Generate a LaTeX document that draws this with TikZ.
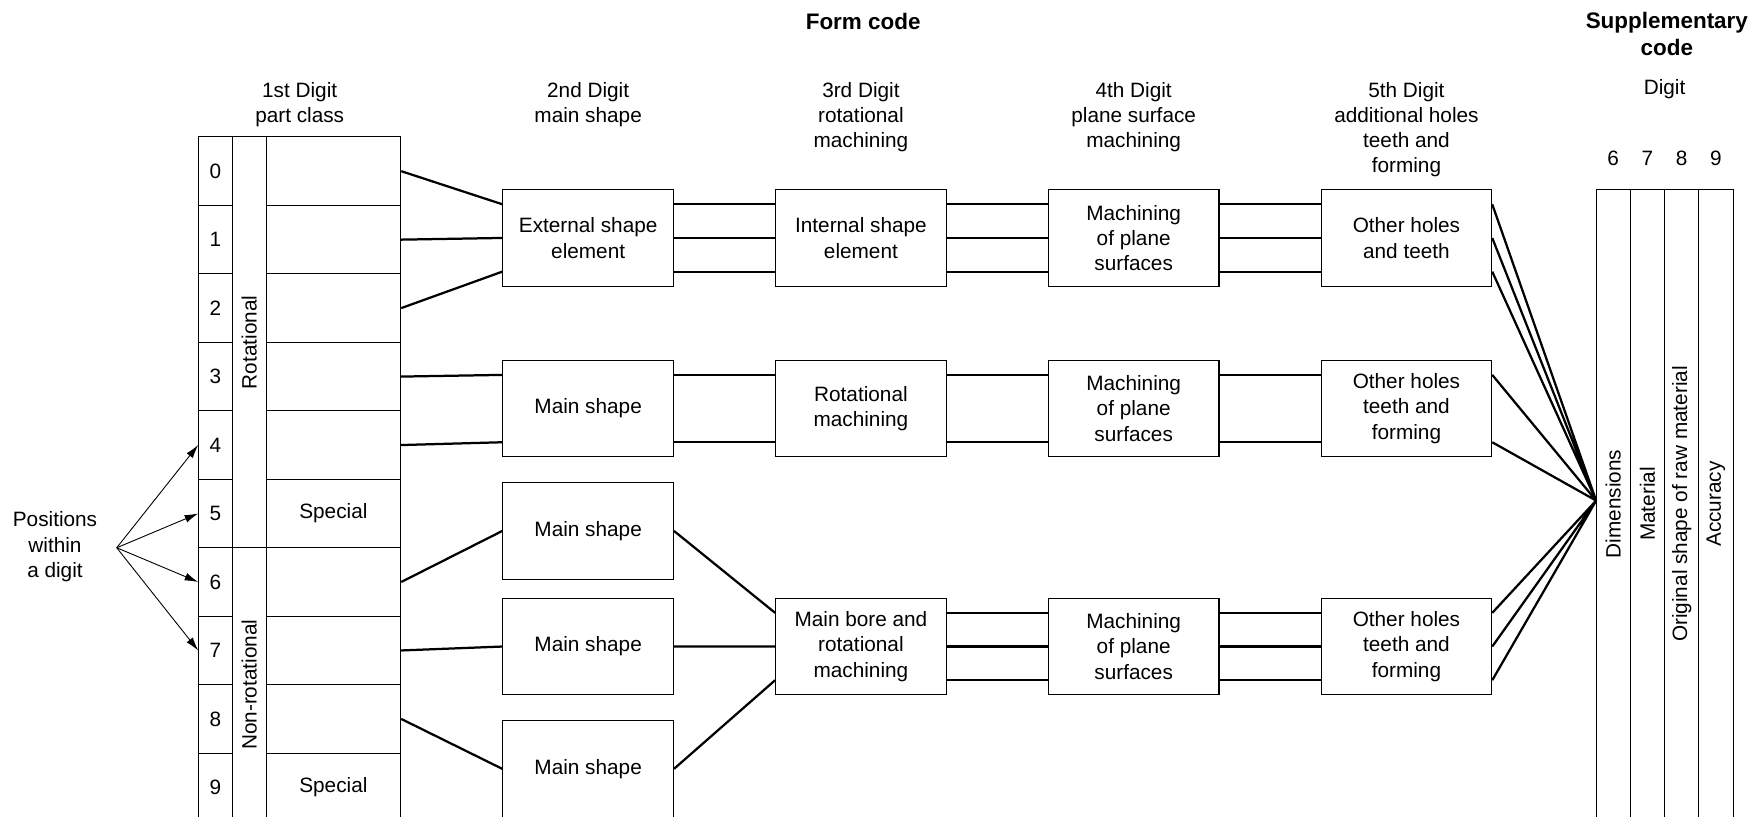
\documentclass[tikz,border=0pt]{standalone}
\usepackage{fontspec}
\setmainfont{Liberation Sans}
\usetikzlibrary{positioning,arrows.meta}

\begin{document}
\begin{tikzpicture}[x=1pt, y=-1pt, node distance=61pt,
    font=\fontsize{18.5}{22.5}\selectfont,
    cell/.style={draw, line width=0.9pt, minimum height=61pt, inner sep=0pt},
    stage/.style={draw, line width=0.9pt, minimum width=152pt, minimum height=86pt, align=center, inner sep=0pt},
    colhead/.style={anchor=north, align=center, inner sep=0pt},
    heading/.style={font=\fontsize{20}{24}\selectfont\bfseries, align=center, inner sep=0pt},
    link/.style={line width=2pt},
    pointer/.style={line width=0.8pt, -{Latex[length=12pt, width=7pt]}}]

    \useasboundingbox (0,0) rectangle (1568,727);

    % titles
    \node[heading] (form) at (769,19) {Form code};
    \node[heading] (supp) at (1485,30) {Supplementary\\code};

    % column headings
    \node[colhead] (h1) at (267,73) {1st Digit\\part class};
    \node[colhead] (h2) at (524,73) {2nd Digit\\main shape};
    \node[colhead] (h3) at (767,73) {3rd Digit\\rotational\\machining};
    \node[colhead] (h4) at (1010,73) {4th Digit\\plane surface\\machining};
    \node[colhead] (h5) at (1253,73) {5th Digit\\additional holes\\teeth and\\forming};

    % 1st digit: positions 0-9
    \node[cell, minimum width=30pt] (d0) at (192,152.5) {0};
    \node[cell, minimum width=30pt, below of=d0] (d1) {1};
    \node[cell, minimum width=30pt, below of=d1] (d2) {2};
    \node[cell, minimum width=30pt, below of=d2] (d3) {3};
    \node[cell, minimum width=30pt, below of=d3] (d4) {4};
    \node[cell, minimum width=30pt, below of=d4] (d5) {5};
    \node[cell, minimum width=30pt, below of=d5] (d6) {6};
    \node[cell, minimum width=30pt, below of=d6] (d7) {7};
    \node[cell, minimum width=30pt, below of=d7] (d8) {8};
    \node[cell, minimum width=30pt, below of=d8] (d9) {9};

    % part classes
    \node[cell, rotate=90, minimum width=366pt, minimum height=30pt] (rot) at (222,305) {Rotational};
    \node[cell, rotate=90, minimum width=244pt, minimum height=30pt] (nonrot) at (222,610) {Non-rotational};

    \node[cell, minimum width=120pt, right of=d0, node distance=105pt] (c0) {};
    \node[cell, minimum width=120pt, right of=d1, node distance=105pt] (c1) {};
    \node[cell, minimum width=120pt, right of=d2, node distance=105pt] (c2) {};
    \node[cell, minimum width=120pt, right of=d3, node distance=105pt] (c3) {};
    \node[cell, minimum width=120pt, right of=d4, node distance=105pt] (c4) {};
    \node[cell, minimum width=120pt, right of=d5, node distance=105pt] (c5) {Special};
    \node[cell, minimum width=120pt, right of=d6, node distance=105pt] (c6) {};
    \node[cell, minimum width=120pt, right of=d7, node distance=105pt] (c7) {};
    \node[cell, minimum width=120pt, right of=d8, node distance=105pt] (c8) {};
    \node[cell, minimum width=120pt, right of=d9, node distance=105pt] (c9) {Special};

    % positions label
    \node[align=center] (pos) at (49,487) {Positions\\within\\a digit};
    \coordinate (fork) at (104,488);
    \draw[pointer] (fork) -- (d4.west);
    \draw[pointer] (fork) -- (d5.west);
    \draw[pointer] (fork) -- (d6.west);
    \draw[pointer] (fork) -- (d7.west);

    % rotational parts
    \node[stage] (ext) at (524,212) {External shape\\element};
    \node[stage, right of=ext, node distance=243pt] (int) {Internal shape\\element};
    \node[stage, right of=int, node distance=243pt] (plane1) {Machining\\of plane\\surfaces};
    \node[stage, right of=plane1, node distance=243pt] (holes1) {Other holes\\and teeth};

    \node[stage] (main1) at (524,364) {Main shape};
    \node[stage, right of=main1, node distance=243pt] (rotm) {Rotational\\machining};
    \node[stage, right of=rotm, node distance=243pt] (plane2) {Machining\\of plane\\surfaces};
    \node[stage, right of=plane2, node distance=243pt] (holes2) {Other holes\\teeth and\\forming};

    % non-rotational parts
    \node[stage] (main2) at (524,473) {Main shape};
    \node[stage] (main3) at (524,576) {Main shape};
    \node[stage] (main4) at (524,685) {Main shape};
    \node[stage, right of=main3, node distance=243pt] (bore) {Main bore and\\rotational\\machining};
    \node[stage, right of=bore, node distance=243pt] (plane3) {Machining\\of plane\\surfaces};
    \node[stage, right of=plane3, node distance=243pt] (holes3) {Other holes\\teeth and\\forming};

    % supplementary code
    \node (digit) at (1483,79) {Digit};
    \node[cell, rotate=90, minimum width=560pt, minimum height=30.5pt] (sup6) at (1437.25,449) {Dimensions};
    \node[cell, rotate=90, minimum width=560pt, minimum height=30.5pt, below of=sup6, node distance=30.5pt] (sup7) {Material};
    \node[cell, rotate=90, minimum width=560pt, minimum height=30.5pt, below of=sup7, node distance=30.5pt] (sup8) {Original shape of raw material};
    \node[cell, rotate=90, minimum width=560pt, minimum height=30.5pt, below of=sup8, node distance=30.5pt] (sup9) {Accuracy};
    \node (n6) at (1437.25,141) {6};
    \node (n7) at (1467.75,141) {7};
    \node (n8) at (1498.25,141) {8};
    \node (n9) at (1528.75,141) {9};
    \coordinate (fan) at (1422,446);

    % part class to main shape
    \draw[link] (c0.east) -- ([yshift=30pt]ext.west)
                (c1.east) -- (ext.west)
                (c2.east) -- ([yshift=-30pt]ext.west);
    \draw[link] (c3.east) -- ([yshift=30pt]main1.west)
                (c4.east) -- ([yshift=-30pt]main1.west);
    \draw[link] (c6.east) -- (main2.west)
                (c7.east) -- (main3.west)
                (c8.east) -- (main4.west);

    % rotational chain
    \draw[link] ([yshift=30pt]ext.east) -- ([yshift=30pt]int.west)
                (ext.east) -- (int.west)
                ([yshift=-30pt]ext.east) -- ([yshift=-30pt]int.west);
    \draw[link] ([yshift=30pt]int.east) -- ([yshift=30pt]plane1.west)
                (int.east) -- (plane1.west)
                ([yshift=-30pt]int.east) -- ([yshift=-30pt]plane1.west);
    \draw[link] ([yshift=30pt]plane1.east) -- ([yshift=30pt]holes1.west)
                (plane1.east) -- (holes1.west)
                ([yshift=-30pt]plane1.east) -- ([yshift=-30pt]holes1.west);

    \draw[link] ([yshift=30pt]main1.east) -- ([yshift=30pt]rotm.west)
                ([yshift=-30pt]main1.east) -- ([yshift=-30pt]rotm.west);
    \draw[link] ([yshift=30pt]rotm.east) -- ([yshift=30pt]plane2.west)
                ([yshift=-30pt]rotm.east) -- ([yshift=-30pt]plane2.west);
    \draw[link] ([yshift=30pt]plane2.east) -- ([yshift=30pt]holes2.west)
                ([yshift=-30pt]plane2.east) -- ([yshift=-30pt]holes2.west);

    % non-rotational chain
    \draw[link] (main2.east) -- ([yshift=30pt]bore.west)
                (main3.east) -- (bore.west)
                (main4.east) -- ([yshift=-30pt]bore.west);
    \draw[link] ([yshift=30pt]bore.east) -- ([yshift=30pt]plane3.west)
                (bore.east) -- (plane3.west)
                ([yshift=-30pt]bore.east) -- ([yshift=-30pt]plane3.west);
    \draw[link] ([yshift=30pt]plane3.east) -- ([yshift=30pt]holes3.west)
                (plane3.east) -- (holes3.west)
                ([yshift=-30pt]plane3.east) -- ([yshift=-30pt]holes3.west);

    % all into the supplementary digits
    \draw[link] ([yshift=30pt]holes1.east) -- (fan)
                (holes1.east) -- (fan)
                ([yshift=-30pt]holes1.east) -- (fan);
    \draw[link] ([yshift=30pt]holes2.east) -- (fan)
                ([yshift=-30pt]holes2.east) -- (fan);
    \draw[link] ([yshift=30pt]holes3.east) -- (fan)
                (holes3.east) -- (fan)
                ([yshift=-30pt]holes3.east) -- (fan);
\end{tikzpicture}
\end{document}
